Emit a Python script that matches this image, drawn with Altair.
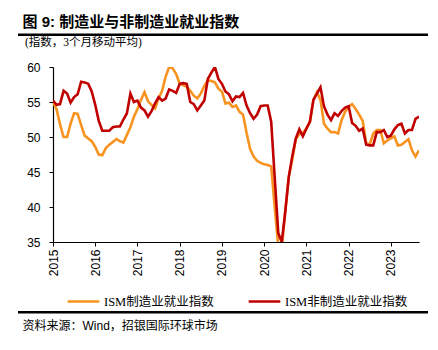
import altair as alt
import pandas as pd

# ---- data (3-month moving averages, Jan 2015 .. Sep 2023) ----
start_year = 2015
mfg = [
    55.0, 54.0, 51.8, 50.0, 50.0, 51.9, 53.4, 53.3, 51.7, 50.2, 49.8, 49.4,
    48.6, 47.5, 47.4, 48.4, 48.9, 49.3, 49.7, 49.4, 49.2, 50.3, 51.4, 52.9,
    54.0, 55.3, 56.4, 55.1, 54.6, 54.1, 55.5, 56.6, 58.6, 60.0, 59.8, 59.0,
    57.6, 57.4, 57.2, 56.6, 55.9, 55.5, 56.2, 57.3, 58.1, 58.0, 57.8, 56.9,
    56.5, 54.8, 54.9, 54.3, 54.5, 53.6, 53.2, 50.6, 48.3, 47.2, 46.6, 46.3,
    46.1, 46.0, 45.8, 40.0, 34.5, 34.0, 39.5, 44.3, 46.8, 49.7, 50.4, 50.6,
    51.2, 52.1, 55.3, 56.4, 55.3, 51.9, 51.2, 50.7, 50.7, 50.5, 52.4, 53.6,
    54.3, 54.7, 54.0, 53.2, 52.3, 49.1, 48.9, 50.5, 51.0, 51.0, 49.1, 49.5,
    49.8, 50.1, 48.8, 48.9, 49.3, 49.7, 48.1, 47.2, 48.1,
]
nonmfg = [
    55.2, 54.6, 54.7, 56.6, 56.2, 54.9, 55.7, 56.1, 57.9, 57.8, 57.6, 56.5,
    54.6, 52.3, 50.9, 50.9, 50.9, 51.4, 51.5, 51.5, 52.5, 53.4, 56.2, 55.0,
    55.2, 54.2, 53.8, 52.9, 53.7, 54.8, 55.7, 55.2, 55.5, 56.8, 56.6, 56.3,
    57.6, 57.7, 57.6, 55.0, 54.7, 53.8, 54.5, 55.2, 58.3, 59.2, 60.0, 58.3,
    57.6, 56.5, 56.1, 55.1, 55.8, 55.7, 56.3, 54.5, 53.4, 52.6, 53.2, 54.4,
    54.5, 54.5, 52.2, 44.2, 36.3, 35.0, 39.3, 44.3, 47.3, 49.8, 51.1, 50.1,
    51.2, 52.2, 55.3, 56.2, 57.1, 54.4, 53.2, 52.4, 53.4, 53.0, 53.7, 54.2,
    54.4, 52.0, 51.6, 50.9, 51.2, 48.9, 48.8, 48.8, 50.7, 50.7, 51.0, 50.0,
    50.2, 51.1, 51.7, 51.9, 50.5, 51.0, 51.0, 52.6, 52.9,
]
series_names = ["ISM制造业就业指数", "ISM非制造业就业指数"]
series_colors = ["#F7931E", "#C00000"]
year_ticks = [2015, 2016, 2017, 2018, 2019, 2020, 2021, 2022, 2023]
y_ticks = [35, 40, 45, 50, 55, 60]

title_text = "图 9: 制造业与非制造业就业指数"
subtitle_text = "(指数，3个月移动平均)"
source_text = "资料来源：Wind，招银国际环球市场"

rows = []
for i, v in enumerate(mfg):
    rows.append({"t": start_year + i / 12, "v": v, "s": series_names[0]})
for i, v in enumerate(nonmfg):
    rows.append({"t": start_year + i / 12, "v": v, "s": series_names[1]})
df = pd.DataFrame(rows)

num_font = "Liberation Sans"
cjk_sans = "Liberation Sans, Noto Sans CJK SC"
cjk_serif = "Liberation Serif, Noto Sans CJK SC"

x_enc = alt.X(
    "t:Q",
    scale=alt.Scale(domain=[start_year, start_year + (len(mfg) - 1) / 12], nice=False, zero=False),
    axis=alt.Axis(values=year_ticks, format="d", labelAngle=-90, title=None,
                  labelFontSize=12, labelFont=num_font, labelColor="black",
                  tickSize=4, tickColor="black", domainColor="black", domainWidth=1.2,
                  labelPadding=3, grid=False, labelFlush=False, labelOverlap=False),
)
y_enc = alt.Y(
    "v:Q",
    scale=alt.Scale(domain=[35, 60], nice=False, zero=False),
    axis=alt.Axis(values=y_ticks, title=None, labelFontSize=12, labelFont=num_font,
                  labelColor="black", tickSize=4, tickColor="black", domainColor="black",
                  domainWidth=1.2, labelPadding=9, grid=False),
)
color_enc = alt.Color(
    "s:N",
    scale=alt.Scale(domain=series_names, range=series_colors),
    legend=alt.Legend(
        orient="none", direction="horizontal", legendX=13, legendY=217, title=None,
        symbolType="stroke", symbolSize=1000, symbolStrokeWidth=2.6, padding=0,
        labelFont=cjk_serif, labelFontSize=12.5, labelColor="black", labelOffset=3,
        columnPadding=29, labelLimit=300,
    ),
)

base = alt.Chart(df)
line_mfg = base.transform_filter(alt.datum.s == series_names[0]).mark_line(
    strokeWidth=2.6, clip=True).encode(x=x_enc, y=y_enc, color=color_enc)
line_non = base.transform_filter(alt.datum.s == series_names[1]).mark_line(
    strokeWidth=2.6, clip=True).encode(x=x_enc, y=y_enc, color=color_enc)


def text_layer(txt, x, y, size, font, weight="normal"):
    return alt.Chart(pd.DataFrame({"txt": [txt]})).mark_text(
        align="left", baseline="alphabetic", fontSize=size, font=font,
        fontWeight=weight, color="black",
    ).encode(text="txt:N", x=alt.value(x), y=alt.value(y))


def rule_layer(y):
    return alt.Chart(pd.DataFrame({"a": [0]})).mark_rule(
        color="black", strokeWidth=2.6).encode(
        x=alt.value(-35), x2=alt.value(375), y=alt.value(y))


chart = alt.layer(
    line_mfg,
    line_non,
    text_layer(title_text, -30.5, -40, 15, cjk_sans, "bold"),
    rule_layer(-32.3),
    text_layer(subtitle_text, -28, -21.5, 11.5, cjk_serif),
    rule_layer(245.2),
    text_layer(source_text, -30.5, 262.5, 12, cjk_sans),
).properties(
    width=366, height=175,
    padding={"left": 53, "top": 67, "right": 19, "bottom": 108},
    autosize="none",
    background="white",
).configure_view(stroke=None)

chart.save("out.html", embed_options={"renderer": "svg", "actions": False})
